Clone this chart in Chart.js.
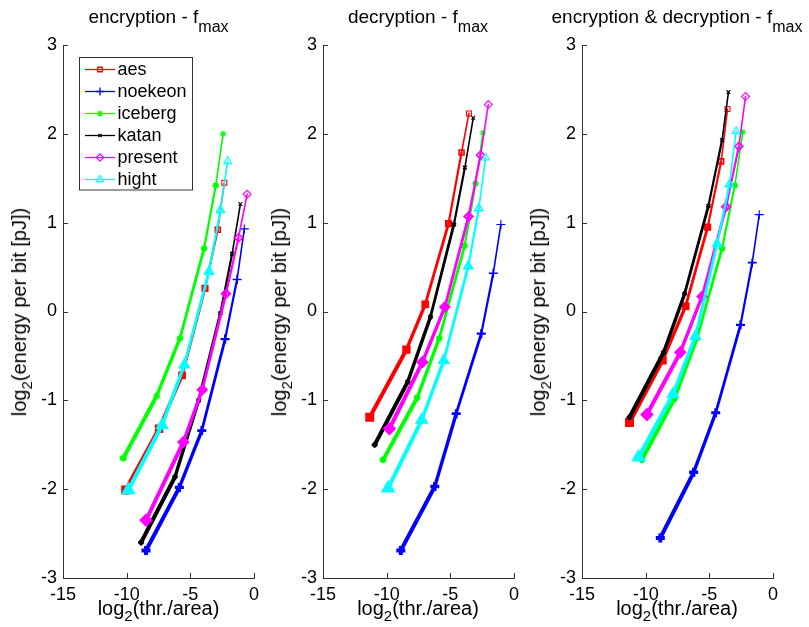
<!DOCTYPE html>
<html><head><meta charset="utf-8">
<script src="https://cdn.jsdelivr.net/npm/chart.js@4.4.1/dist/chart.umd.min.js"></script>
<style>
body{margin:0;background:#fff;width:809px;height:627px;overflow:hidden;position:relative;font-family:"Liberation Sans",Arial,sans-serif;color:#000}
canvas{position:absolute;top:0}
.title{position:absolute;top:7px;font-size:19px;line-height:19px;white-space:nowrap;transform:translateX(-50%)}
.xlab{position:absolute;top:598px;font-size:20px;line-height:20px;white-space:nowrap;transform:translateX(-50%)}
.ylab{position:absolute;top:311.5px;font-size:20px;line-height:20px;white-space:nowrap;transform:translate(-50%,-50%) rotate(-90deg)}
.sub{position:relative;top:9px;font-size:16px}
.sub2{position:relative;top:6px;font-size:15px}
</style></head>
<body>
<canvas id="c1" width="263" height="627" style="left:3px"></canvas>
<canvas id="c2" width="263" height="627" style="left:263px"></canvas>
<canvas id="c3" width="263" height="627" style="left:522px"></canvas>
<div class="title" style="left:158.5px">encryption - f<span class="sub">max</span></div>
<div class="title" style="left:418px">decryption - f<span class="sub">max</span></div>
<div class="title" style="left:677px">encryption &amp; decryption - f<span class="sub">max</span></div>
<div class="xlab" style="left:158.5px">log<span class="sub2">2</span>(thr./area)</div>
<div class="xlab" style="left:418px">log<span class="sub2">2</span>(thr./area)</div>
<div class="xlab" style="left:677px">log<span class="sub2">2</span>(thr./area)</div>
<div class="ylab" style="left:20px">log<span class="sub2">2</span>(energy per bit [pJ])</div>
<div class="ylab" style="left:280px">log<span class="sub2">2</span>(energy per bit [pJ])</div>
<div class="ylab" style="left:539px">log<span class="sub2">2</span>(energy per bit [pJ])</div>
<script>
// ---- axis ticks ----
const xTicks = [-15, -10, -5, 0];
const yTicks = [-3, -2, -1, 0, 1, 2, 3];

// ---- series ----
const seriesNames = ['aes', 'noekeon', 'iceberg', 'katan', 'present', 'hight'];

// encryption - fmax
const encAesX     = [-10.08, -7.46, -5.65, -3.85, -2.85, -2.33];
const encAesY     = [-2.01, -1.32, -0.72, 0.26, 0.92, 1.45];
const encNoekeonX = [-8.48, -5.86, -4.10, -2.27, -1.33, -0.76];
const encNoekeonY = [-2.69, -1.98, -1.34, -0.31, 0.36, 0.93];
const encIcebergX = [-10.26, -7.64, -5.81, -3.92, -3.00, -2.43];
const encIcebergY = [-1.65, -0.95, -0.30, 0.71, 1.42, 2.00];
const encKatanX   = [-8.87, -6.20, -4.35, -2.64, -1.72, -1.07];
const encKatanY   = [-2.60, -1.86, -1.00, -0.02, 0.65, 1.21];
const encPresentX = [-8.48, -5.55, -4.06, -2.20, -1.22, -0.54];
const encPresentY = [-2.35, -1.47, -0.88, 0.20, 0.83, 1.32];
const encHightX   = [-9.87, -7.22, -5.47, -3.53, -2.64, -2.07];
const encHightY   = [-2.01, -1.28, -0.60, 0.45, 1.14, 1.69];

// decryption - fmax
const decAesX     = [-11.33, -8.45, -6.97, -5.14, -4.12, -3.54];
const decAesY     = [-1.19, -0.43, 0.08, 0.99, 1.79, 2.23];
const decNoekeonX = [-8.89, -6.22, -4.54, -2.57, -1.63, -1.03];
const decNoekeonY = [-2.69, -1.97, -1.15, -0.25, 0.43, 0.98];
const decIcebergX = [-10.28, -7.60, -5.87, -3.88, -3.02, -2.44];
const decIcebergY = [-1.67, -0.97, -0.30, 0.74, 1.44, 2.01];
const decKatanX   = [-10.94, -8.34, -6.56, -4.72, -3.86, -3.20];
const decKatanY   = [-1.50, -0.79, -0.06, 0.98, 1.62, 2.18];
const decPresentX = [-9.78, -7.19, -5.43, -3.57, -2.62, -2.02];
const decPresentY = [-1.32, -0.57, 0.05, 1.07, 1.76, 2.33];
const decHightX   = [-9.89, -7.24, -5.51, -3.59, -2.76, -2.23];
const decHightY   = [-1.99, -1.22, -0.55, 0.51, 1.16, 1.73];

// encryption & decryption - fmax
const bothAesX     = [-11.27, -8.67, -6.86, -5.13, -4.07, -3.57];
const bothAesY     = [-1.25, -0.55, 0.06, 0.95, 1.69, 2.28];
const bothNoekeonX = [-8.85, -6.23, -4.50, -2.55, -1.63, -1.08];
const bothNoekeonY = [-2.55, -1.81, -1.14, -0.15, 0.55, 1.09];
const bothIcebergX = [-10.30, -7.73, -5.96, -4.00, -3.00, -2.37];
const bothIcebergY = [-1.67, -0.98, -0.30, 0.71, 1.42, 2.02];
const bothKatanX   = [-11.27, -8.59, -6.94, -5.07, -4.00, -3.50];
const bothKatanY   = [-1.19, -0.46, 0.20, 1.19, 1.93, 2.47];
const bothPresentX = [-9.90, -7.28, -5.57, -3.68, -2.68, -2.16];
const bothPresentY = [-1.16, -0.46, 0.17, 1.18, 1.86, 2.42];
const bothHightX   = [-10.56, -7.85, -6.10, -4.39, -3.42, -2.89];
const bothHightY   = [-1.64, -0.93, -0.28, 0.76, 1.43, 2.03];

// ---- styles ----
const colors = ['#ff0000', '#0000ff', '#00ff00', '#000000', '#ff00ff', '#00ffff'];
const markers = ['rect', 'cross', 'star', 'crossRot', 'rectRot', 'triangle'];
const markerRadius = [3.5, 4.5, 3.2, 2.6, 4, 4.5];
const segWidths = [4, 3.4, 2.8, 2.2, 1.6, 1.1];
const FONT = '"Liberation Sans", Arial, sans-serif';
const AXIS = '#333';

function pts(xs, ys) { return xs.map((x, i) => ({ x: x, y: ys[i] })); }

const innerTicks = {
  id: 'innerTicks',
  afterDraw(chart) {
    const { ctx, chartArea: a, scales: { x, y } } = chart;
    ctx.save();
    ctx.strokeStyle = AXIS; ctx.lineWidth = 1;
    ctx.beginPath();
    yTicks.forEach(v => { const py = Math.round(y.getPixelForValue(v)) + 0.5; ctx.moveTo(a.left, py); ctx.lineTo(a.left + 5, py); });
    xTicks.forEach(v => { const px = Math.round(x.getPixelForValue(v)) + 0.5; ctx.moveTo(px, a.bottom); ctx.lineTo(px, a.bottom - 5); });
    ctx.stroke();
    ctx.restore();
  }
};

const boxLegend = {
  id: 'boxLegend',
  afterDraw(chart) {
    const { ctx, chartArea: a } = chart;
    ctx.save();
    const bx = a.left + 15.5, by = a.top + 11.5, bw = 113, bh = 132.5;
    ctx.fillStyle = '#fff';
    ctx.fillRect(bx, by, bw, bh);
    ctx.strokeStyle = '#333'; ctx.lineWidth = 1;
    ctx.strokeRect(Math.round(bx) + 0.5, Math.round(by) + 0.5, bw, bh);
    ctx.font = '18px ' + FONT;
    ctx.textBaseline = 'middle';
    seriesNames.forEach((n, i) => {
      const yy = a.top + 24.5 + i * 22;
      ctx.strokeStyle = colors[i]; ctx.lineWidth = 1.3;
      ctx.beginPath(); ctx.moveTo(a.left + 22, yy); ctx.lineTo(a.left + 52, yy); ctx.stroke();
      ctx.fillStyle = 'rgba(0,0,0,0)';
      Chart.helpers.drawPoint(ctx, { pointStyle: markers[i], radius: markerRadius[i] * 0.9, borderWidth: 1.2, rotation: 0 }, a.left + 37, yy);
      ctx.fillStyle = '#000';
      ctx.fillText(n, a.left + 54.5, yy + 1);
    });
    ctx.restore();
  }
};

function makeChart(id, series, withLegend) {
  const datasets = series.map((s, i) => ({
    label: seriesNames[i],
    data: pts(s[0], s[1]),
    borderColor: colors[i],
    backgroundColor: colors[i],
    pointStyle: markers[i],
    pointRadius: markerRadius[i],
    pointBorderColor: colors[i],
    pointBackgroundColor: 'rgba(0,0,0,0)',
    pointBorderWidth: ctx => segWidths[Math.min(ctx.dataIndex, 5)],
    borderWidth: 2,
    borderCapStyle: 'round',
    borderJoinStyle: 'round',
    segment: { borderWidth: ctx => segWidths[ctx.p0DataIndex] },
    tension: 0,
    fill: false,
    order: 10 - i
  }));
  return new Chart(document.getElementById(id), {
    type: 'line',
    data: { datasets },
    plugins: withLegend ? [innerTicks, boxLegend] : [innerTicks],
    options: {
      responsive: false,
      animation: false,
      devicePixelRatio: 1,
      layout: { padding: { left: 0, right: 12, top: 45, bottom: 19 } },
      plugins: { legend: { display: false }, tooltip: { enabled: false }, title: { display: false } },
      scales: {
        x: {
          type: 'linear', min: -15, max: 0,
          afterBuildTicks: s => { s.ticks = xTicks.map(v => ({ value: v })); },
          afterFit: s => { s.height = 30; },
          grid: { drawOnChartArea: false, drawTicks: false },
          border: { display: true, color: AXIS, width: 1 },
          ticks: { color: '#000', padding: 6, font: { size: 18, family: FONT }, maxRotation: 0, autoSkip: false }
        },
        y: {
          type: 'linear', min: -3, max: 3,
          afterBuildTicks: s => { s.ticks = yTicks.map(v => ({ value: v })); },
          afterFit: s => { s.width = 60; },
          grid: { drawOnChartArea: false, drawTicks: false },
          border: { display: true, color: AXIS, width: 1 },
          ticks: { color: '#000', padding: 6, font: { size: 18, family: FONT }, autoSkip: false }
        }
      }
    }
  });
}

makeChart('c1', [[encAesX, encAesY], [encNoekeonX, encNoekeonY], [encIcebergX, encIcebergY], [encKatanX, encKatanY], [encPresentX, encPresentY], [encHightX, encHightY]], true);
makeChart('c2', [[decAesX, decAesY], [decNoekeonX, decNoekeonY], [decIcebergX, decIcebergY], [decKatanX, decKatanY], [decPresentX, decPresentY], [decHightX, decHightY]], false);
makeChart('c3', [[bothAesX, bothAesY], [bothNoekeonX, bothNoekeonY], [bothIcebergX, bothIcebergY], [bothKatanX, bothKatanY], [bothPresentX, bothPresentY], [bothHightX, bothHightY]], false);
</script>
</body></html>
